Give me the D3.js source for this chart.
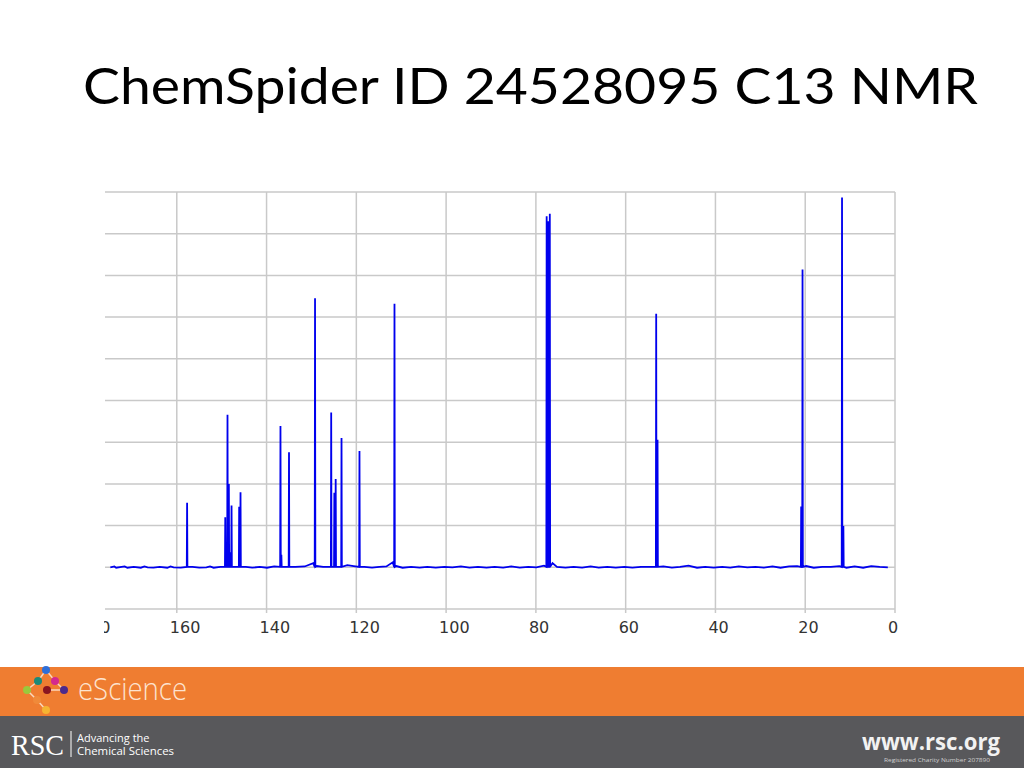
<!DOCTYPE html>
<html>
<head>
<meta charset="utf-8">
<script src="https://cdn.jsdelivr.net/npm/d3@7"></script>
<style>
  html, body { margin: 0; padding: 0; background: #fff; }
  svg { display: block; }
</style>
</head>
<body>
<svg id="chart" width="1024" height="768"></svg>
<script>
// ---- data ----
const titleText = "ChemSpider ID 24528095 C13 NMR";
const xTicks = [180, 160, 140, 120, 100, 80, 60, 40, 20, 0];
const yGridTicks = [-1, 0, 1, 2, 3, 4, 5, 6, 7, 8, 9];
const spectrumStart = 174.8;
const spectrumEnd = 1.6;
// peak positions (ppm) and intensities (grid units)
const peakShifts  = [157.7, 149.2, 148.7, 148.4, 148.1, 147.8, 146.1, 145.8, 136.9, 136.7, 135.0, 129.2, 125.6, 124.9, 124.6, 123.3, 119.3, 111.5, 77.6, 77.25, 76.9, 53.2, 52.9, 20.9, 20.6, 11.8, 11.5];
const peakHeights = [1.55,  1.2,   3.66,  2.0,   0.36,  1.48,  1.45,  1.8,   3.39,  0.3,   2.76,  6.45,  3.71,  1.79,  2.12,  3.1,   2.79,  6.32,  8.42, 8.3,   8.48, 6.08, 3.06, 1.46, 7.14, 8.87, 0.99];
// small baseline wiggles (ppm, intensity)
const baselinePpm = [174.8, 173.9, 173.5, 172.3, 171.6, 171.0, 169.6, 168.0, 167.2, 166.5, 165.2, 163.8, 162.1, 161.4, 160.7, 159.1, 156.5, 155.0, 153.4, 152.6, 151.8, 150.3, 144.6, 143.2, 141.5, 139.9, 138.3, 133.6, 131.5, 129.6, 128.8, 127.4, 122.0, 120.6, 118.2, 116.5, 114.9, 113.3, 111.9, 111.1, 109.7, 107.8, 105.9, 104.2, 102.3, 100.4, 98.6, 96.7, 94.8, 92.9, 91.0, 89.2, 87.3, 85.5, 83.6, 81.7, 79.9, 78.2, 76.3, 75.3, 73.4, 71.6, 69.7, 67.8, 66.0, 64.1, 62.2, 60.3, 58.5, 56.6, 54.7, 51.6, 49.7, 47.9, 46.0, 44.1, 42.3, 40.4, 38.5, 36.7, 34.8, 32.9, 31.1, 29.2, 27.3, 25.5, 23.6, 21.8, 19.8, 18.1, 16.2, 14.3, 12.4, 10.8, 9.0, 7.1, 5.3, 3.4, 1.6];
const baselineVal = [0.0, 0.02, -0.01, 0.01, 0.02, -0.01, 0.01, -0.01, 0.02, 0.0, -0.01, 0.01, -0.01, 0.02, 0.0, -0.01, 0.01, -0.01, 0.0, 0.02, -0.01, 0.01, 0.01, -0.01, 0.01, -0.01, 0.02, 0.01, 0.02, 0.1, 0.03, 0.01, 0.05, 0.03, 0.01, -0.01, 0.01, 0.02, 0.12, 0.03, -0.01, 0.01, -0.01, 0.01, -0.01, 0.01, 0.0, 0.02, -0.01, 0.01, -0.01, 0.01, -0.01, 0.02, -0.01, 0.01, 0.0, 0.04, 0.1, 0.01, -0.01, 0.01, -0.01, 0.02, -0.01, 0.01, -0.01, 0.01, -0.01, 0.01, 0.01, 0.02, -0.01, 0.01, 0.04, -0.01, 0.01, -0.01, 0.01, -0.01, 0.02, 0.0, 0.01, -0.01, 0.02, -0.01, 0.02, 0.03, 0.03, -0.01, 0.01, 0.01, 0.03, -0.01, 0.02, -0.01, 0.03, 0.01, 0.0];

const svg = d3.select("#chart");

// ---- title ----
svg.append("text")
  .attr("x", 83).attr("y", 104)
  .attr("font-family", "Lato, 'Open Sans', sans-serif")
  .attr("font-size", 50)
  .attr("fill", "#000")
  .attr("textLength", 895)
  .attr("lengthAdjust", "spacingAndGlyphs")
  .text(titleText);

// ---- scales ----
const x = d3.scaleLinear().domain([180, 0]).range([87, 895]);
const y = d3.scaleLinear().domain([-1, 9]).range([609, 192]);
const plotLeft = 105, plotRight = 895;

const defs = svg.append("defs");
defs.append("clipPath").attr("id", "plotClip")
  .append("rect").attr("x", plotLeft).attr("y", 150).attr("width", plotRight - plotLeft + 2).attr("height", 480);
defs.append("clipPath").attr("id", "labelClip")
  .append("rect").attr("x", plotLeft - 1).attr("y", 600).attr("width", 1024 - plotLeft).attr("height", 60);

const grid = svg.append("g").attr("clip-path", "url(#plotClip)");
grid.selectAll("line.h").data(yGridTicks).join("line")
  .attr("class", "h")
  .attr("x1", plotLeft).attr("x2", plotRight)
  .attr("y1", d => y(d)).attr("y2", d => y(d))
  .attr("stroke", "#c9c9c9").attr("stroke-width", 1.5);
grid.selectAll("line.v").data(xTicks).join("line")
  .attr("class", "v")
  .attr("x1", d => x(d)).attr("x2", d => x(d))
  .attr("y1", y(9)).attr("y2", y(-1) + 4)
  .attr("stroke", "#c9c9c9").attr("stroke-width", 1.5);

// tick labels
svg.append("g").attr("clip-path", "url(#labelClip)")
  .selectAll("text").data(xTicks).join("text")
  .attr("x", d => x(d) - 7).attr("y", 633)
  .attr("font-family", "'DejaVu Sans', sans-serif")
  .attr("font-size", 16)
  .attr("fill", "#333")
  .text(d => d);

// ---- spectrum ----
const pts = [];
baselinePpm.forEach((p, i) => pts.push([p, baselineVal[i]]));
const w = 0.07;
peakShifts.forEach((p, i) => {
  pts.push([p + w, 0.01]);
  pts.push([p, peakHeights[i]]);
  pts.push([p - w, 0.01]);
});
pts.push([spectrumStart, 0.0]);
pts.push([spectrumEnd, 0.0]);
pts.sort((a, b) => b[0] - a[0]);
const spectrum = pts.filter(d => d[0] <= spectrumStart && d[0] >= spectrumEnd);

const line = d3.line().x(d => x(d[0])).y(d => y(d[1]));
svg.append("path")
  .attr("clip-path", "url(#plotClip)")
  .attr("d", line(spectrum))
  .attr("fill", "none")
  .attr("stroke", "#0000ee")
  .attr("stroke-width", 1.8)
  .attr("stroke-linejoin", "miter")
  .attr("stroke-miterlimit", 2);

// ---- footer ----
svg.append("rect").attr("x", 0).attr("y", 667).attr("width", 1024).attr("height", 49).attr("fill", "#ef7d31");
svg.append("rect").attr("x", 0).attr("y", 716).attr("width", 1024).attr("height", 52).attr("fill", "#58585b");

// eScience molecule logo
const nodes = [
  {id: "a", x: 46, y: 670, c: "#2f6fd8"},
  {id: "b", x: 38, y: 681, c: "#1a8a78"},
  {id: "c", x: 55, y: 681, c: "#d42a8e"},
  {id: "d", x: 27, y: 690, c: "#9ac93c"},
  {id: "e", x: 47, y: 690, c: "#8a1420"},
  {id: "f", x: 64, y: 690, c: "#4b2a8c"},
  {id: "g", x: 37, y: 700, c: "#f08a3a"},
  {id: "h", x: 46, y: 710, c: "#f5b432"}
];
const links = [["a","b"],["a","c"],["b","d"],["c","f"],["e","f"],["d","g"],["g","h"]];
const byId = Object.fromEntries(nodes.map(n => [n.id, n]));
const logo = svg.append("g");
logo.selectAll("line").data(links).join("line")
  .attr("x1", d => byId[d[0]].x).attr("y1", d => byId[d[0]].y)
  .attr("x2", d => byId[d[1]].x).attr("y2", d => byId[d[1]].y)
  .attr("stroke", "#fbd7bd").attr("stroke-width", 1.5);
logo.selectAll("circle").data(nodes).join("circle")
  .attr("cx", d => d.x).attr("cy", d => d.y).attr("r", 4)
  .attr("fill", d => d.c);
svg.append("text").attr("x", 78).attr("y", 700)
  .attr("font-family", "'Open Sans', sans-serif").attr("font-weight", 300)
  .attr("font-size", 32).attr("fill", "#fde3cf")
  .attr("textLength", 109).attr("lengthAdjust", "spacingAndGlyphs")
  .text("eScience");

// RSC
svg.append("text").attr("x", 11).attr("y", 755)
  .attr("font-family", "'Liberation Serif', serif")
  .attr("font-size", 30).attr("fill", "#ffffff")
  .attr("textLength", 53).attr("lengthAdjust", "spacingAndGlyphs")
  .text("RSC");
svg.append("line").attr("x1", 71).attr("x2", 71).attr("y1", 731).attr("y2", 757)
  .attr("stroke", "#ffffff").attr("stroke-width", 1);
svg.append("text").attr("x", 77).attr("y", 742)
  .attr("font-family", "'Open Sans', sans-serif").attr("font-size", 11).attr("fill", "#ffffff")
  .text("Advancing the");
svg.append("text").attr("x", 77).attr("y", 755)
  .attr("font-family", "'Open Sans', sans-serif").attr("font-size", 11).attr("fill", "#ffffff")
  .attr("textLength", 97).attr("lengthAdjust", "spacingAndGlyphs")
  .text("Chemical Sciences");

svg.append("text").attr("x", 862).attr("y", 750)
  .attr("font-family", "'Open Sans', sans-serif").attr("font-weight", 700)
  .attr("font-size", 23).attr("fill", "#f2f2f2")
  .attr("textLength", 138).attr("lengthAdjust", "spacingAndGlyphs")
  .text("www.rsc.org");
svg.append("text").attr("x", 884).attr("y", 762)
  .attr("font-family", "'Open Sans', sans-serif")
  .attr("font-size", 5).attr("fill", "#cfcfcf")
  .attr("textLength", 106).attr("lengthAdjust", "spacingAndGlyphs")
  .text("Registered Charity Number 207890");
</script>
</body>
</html>
